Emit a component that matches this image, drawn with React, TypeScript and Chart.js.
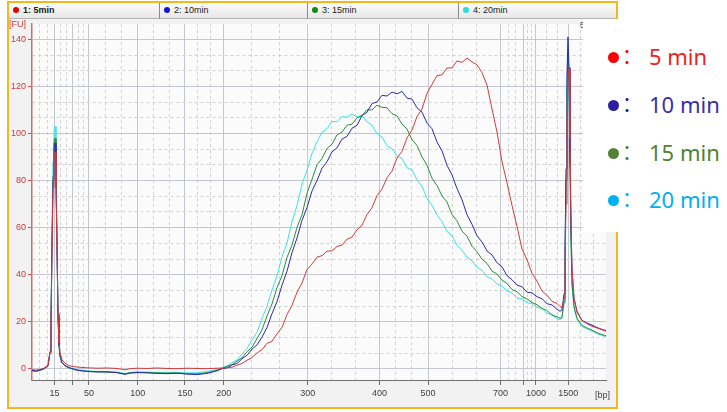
import React, { useEffect, useRef } from "react";
import { Chart, registerables } from "chart.js";

Chart.register(...registerables);

// migration time axis (s) shared by all four traces
const times = [
  20.0, 20.4, 20.8, 21.2, 21.6,
  21.8, 21.9, 22.0, 22.1, 22.2, 22.3, 22.4, 22.5, 22.6, 22.7, 22.8, 23.0, 23.3, 23.7,
  24.5, 25.5, 26.5, 27.5, 28.5, 29.3, 29.8, 30.5, 31.5, 32.5, 33.5, 34.5, 35.5, 36.5, 37.5, 38.5,
  39.0, 39.5, 40.0, 40.5, 41.0, 41.5, 42.0, 42.5, 43.0, 43.5, 44.0, 44.5, 45.0, 45.5, 46.0, 46.5,
  47.0, 47.5, 48.0, 48.5, 49.0, 49.5, 50.0, 50.5, 51.0, 51.5, 52.0, 52.5, 53.0, 53.5, 54.0, 54.5,
  55.0, 55.5, 56.0, 56.5, 57.0, 57.5, 58.0, 58.5, 59.0, 59.5, 60.0, 60.5, 61.0, 61.5, 62.0, 62.5,
  63.0, 63.5, 64.0, 64.5, 65.0, 65.5, 66.0, 66.5, 67.0, 67.5, 68.0, 68.5, 69.0, 69.5, 70.0, 70.5,
  71.0, 71.5, 72.0, 72.5,
  72.8, 73.0, 73.2, 73.3, 73.4, 73.5, 73.6, 73.7, 73.8, 73.9, 74.0, 74.2, 74.5,
  75.0, 75.5, 76.0, 76.5, 77.0, 77.4,
];

const fu5min = [
  -0.3, -0.5, -0.2, 0.3, 1.6,
  7, 19, 50, 77, 90, 92, 77, 51, 23, 11, 7, 4, 2.4, 1.4,
  0.8, 0.5, 0.3, 0.4, 0.2, -0.4, 0.1, 0.3, 0.2, 0.4, 0.2, 0.1, 0.3, 0.2, 0.1, 0.3,
  0.3, 0.6, 0.7, 1.6, 2.3, 3.7, 4.8, 6.8, 8.2, 10.9, 11.7, 14.9, 17.6, 23.1, 27.0, 32.6,
  36.5, 42.2, 44.6, 47.5, 48.1, 50.0, 50.2, 52.0, 52.6, 55.1, 56.0, 59.1, 61.0, 65.6, 68.5, 73.6,
  76.4, 81.2, 84.0, 89.6, 92.4, 98.1, 101.5, 107.2, 110.4, 117.1, 120.8, 124.6, 124.9, 127.8, 127.9, 130.8,
  130.2, 132.0, 130.4, 129.2, 125.8, 120.6, 110.4, 100.6, 88.0, 79.1, 69.4, 60.5, 51.0, 46.4, 40.6, 37.3,
  33.1, 31.3, 28.7, 27.8,
  26.5, 26, 30, 42, 70, 105, 125, 127.5, 98, 64, 42, 30, 24,
  20.5, 19.2, 18.1, 17.4, 16.6, 16.0,
];

const fu10min = [
  -0.6, -0.8, -0.4, 0.2, 1.4,
  7, 19, 52, 80, 94, 96, 80, 52, 22, 10, 5.5, 2.8, 1.5, 0.6,
  -0.5, -1.0, -1.3, -1.2, -1.6, -2.3, -1.8, -1.5, -1.7, -1.9, -2.0, -1.8, -2.2, -2.4, -1.9, -0.8,
  0.1, 0.4, 1.7, 2.3, 4.3, 5.8, 8.4, 10.2, 13.5, 17.6, 23.5, 28.6, 35.6, 41.5, 49.4, 55.6,
  63.1, 68.5, 75.6, 80.0, 85.2, 88.0, 92.2, 93.9, 97.6, 98.8, 102.2, 103.5, 107.6, 109.0, 112.7, 113.4,
  116.2, 115.9, 117.6, 116.8, 117.9, 115.0, 114.6, 110.9, 109.1, 104.4, 102.0, 96.4, 92.6, 86.5, 82.4, 76.6,
  71.9, 65.5, 61.4, 56.6, 53.9, 50.1, 48.4, 45.1, 43.4, 39.6, 37.9, 35.6, 34.9, 32.6, 32.3, 30.7,
  29.8, 27.7, 27.2, 25.3,
  24.5, 25, 32, 50, 85, 125, 141, 128, 92, 60, 42, 30, 24.5,
  20.6, 19.5, 18.6, 17.6, 16.8, 16.3,
];

const fu15min = [
  -0.8, -1.0, -0.6, 0.0, 1.3,
  7, 20, 54, 82, 96, 98, 82, 54, 23, 10, 5.5, 2.6, 1.3, 0.4,
  -0.6, -1.1, -1.2, -1.4, -1.5, -2.1, -1.6, -1.6, -1.5, -1.7, -1.8, -1.7, -2.0, -2.1, -1.6, -0.6,
  0.2, 1.1, 1.8, 3.3, 4.7, 7.3, 9.2, 12.9, 16.6, 22.5, 27.6, 34.5, 39.6, 47.4, 52.6, 60.1,
  65.5, 74.6, 80.5, 86.7, 89.4, 93.6, 95.5, 99.4, 100.6, 103.5, 104.0, 106.7, 107.5, 110.1, 110.0, 112.0,
  111.1, 110.9, 108.4, 107.5, 104.0, 101.9, 97.4, 94.9, 90.1, 86.5, 81.0, 77.9, 73.5, 70.9, 65.6, 62.9,
  58.5, 56.4, 52.1, 49.8, 46.6, 44.8, 41.6, 40.3, 37.7, 36.3, 33.7, 32.8, 30.7, 29.8, 28.2, 27.3,
  25.7, 24.8, 22.8, 22.2,
  21.5, 22, 28.5, 45, 80, 118, 134, 121, 86, 54, 36, 26.5, 21.5,
  18.5, 17.4, 16.5, 15.4, 14.6, 14.1,
];

const fu20min = [
  -1.0, -1.1, -0.7, -0.1, 1.2,
  8, 22, 57, 88, 101, 103, 86, 56, 24, 11, 5.5, 2.6, 1.2, 0.5,
  -0.3, -0.8, -1.0, -1.1, -1.3, -2.0, -1.5, -1.2, -1.3, -1.5, -1.4, -1.5, -1.7, -1.6, -1.1, -0.2,
  0.6, 1.3, 2.7, 3.8, 6.3, 8.7, 12.4, 15.6, 21.5, 26.6, 33.6, 39.5, 47.6, 53.5, 62.6, 69.4,
  78.5, 84.4, 91.6, 96.5, 100.6, 102.0, 105.1, 105.0, 107.2, 106.9, 108.3, 107.0, 107.6, 104.9, 103.6, 99.9,
  98.5, 94.8, 93.5, 90.4, 89.5, 85.4, 84.5, 80.3, 77.6, 72.4, 69.5, 65.4, 62.5, 58.4, 56.5, 52.5,
  50.4, 47.5, 45.9, 43.1, 41.9, 39.1, 38.3, 36.1, 35.3, 33.1, 32.3, 30.1, 29.8, 28.1, 27.7, 26.1,
  25.7, 23.6, 23.2, 21.3,
  21, 21.5, 28, 46, 82, 121, 137.5, 124, 88, 55, 36, 26, 21,
  18, 17, 16, 15, 14.2, 13.8,
];

// ladder (bp) and where each size sits on the time axis
const ladderBp = ["15", "25", "50", "100", "150", "200", "300", "400", "500", "700", "850", "1000", "1500"];
const ladderTimes = [22.26, 24.07, 25.7, 30.57, 35.3, 39.18, 47.57, 54.75, 59.6, 66.86, 69.13, 70.39, 73.63];
const unlabeledBp = ["25", "850"];

const yMajorStep = 20;
const yMinorDivisions = 3;

const tabNames = ["1: 5min", "2: 10min", "3: 15min", "4: 20min"];
const tabDotColors = ["#e60000", "#1414d2", "#138a13", "#25dede"];
const seriesLabels = ["5 min", "10 min", "15 min", "20 min"];
const lineColors = ["#d33b3b", "#2a2ab8", "#2e8b3a", "#3be3e3"];
const legendDotColors = ["#ff0000", "#2b1ea3", "#538135", "#00b0f0"];
const legendTextColors = ["#f01e1e", "#3a2ea8", "#538135", "#00b0f0"];

const X_MIN = 20;
const X_MAX = 77.4;
const Y_MIN = -4.7;
const Y_MAX = 146.5;

const FONT = "'Liberation Sans Narrow','Liberation Sans',Arial,sans-serif";
const MAJOR_GRID = "#c5c7cf";
const MINOR_GRID = "#d2d2d2";

const isMajorX = (v: number) => ladderTimes.some((t) => Math.abs(t - v) < 1e-9);
const isMajorY = (v: number) => Math.abs(v / yMajorStep - Math.round(v / yMajorStep)) < 1e-6;

function buildXTicks() {
  const b = [X_MIN, ...ladderTimes, X_MAX];
  const out: { value: number }[] = [];
  for (let i = 0; i < b.length - 1; i++) {
    const a = b[i];
    const c = b[i + 1];
    if (i > 0) out.push({ value: a });
    out.push({ value: a + (c - a) / 3 });
    out.push({ value: a + (2 * (c - a)) / 3 });
  }
  return out;
}

function buildYTicks() {
  const out: { value: number }[] = [];
  const step = yMajorStep / yMinorDivisions;
  for (let k = 0; k * step <= Y_MAX; k++) out.push({ value: k * step });
  return out;
}

const plotBg = {
  id: "plotBg",
  beforeDraw(chart: any) {
    const { ctx, chartArea } = chart;
    ctx.save();
    ctx.fillStyle = "#fbfbfb";
    ctx.fillRect(chartArea.left, chartArea.top, chartArea.right - chartArea.left, chartArea.bottom - chartArea.top);
    ctx.restore();
  },
};

export default function App() {
  const ref = useRef<HTMLCanvasElement>(null);

  useEffect(() => {
    const canvas = ref.current;
    if (!canvas) return;
    const series = [fu5min, fu10min, fu15min, fu20min];
    const chart = new Chart(canvas, {
      type: "line",
      data: {
        datasets: series.map((d, i) => ({
          label: seriesLabels[i],
          data: times.map((t, j) => ({ x: t, y: d[j] })),
          borderColor: lineColors[i],
          backgroundColor: lineColors[i],
          borderWidth: 1,
          pointRadius: 0,
          fill: false,
          tension: 0,
        })),
      },
      options: {
        responsive: false,
        animation: false,
        events: [],
        layout: { padding: { left: 0, right: 121, top: 24, bottom: 0 } },
        plugins: { legend: { display: false }, tooltip: { enabled: false } },
        scales: {
          x: {
            type: "linear",
            min: X_MIN,
            max: X_MAX,
            bounds: "data",
            afterBuildTicks: (s: any) => {
              s.ticks = buildXTicks();
            },
            afterFit: (s: any) => {
              s.height = 32;
            },
            ticks: {
              autoSkip: false,
              maxRotation: 0,
              minRotation: 0,
              padding: 3,
              color: "#404040",
              font: { family: FONT, size: 9 },
              callback: (value: any) => {
                const i = ladderTimes.findIndex((t) => Math.abs(t - Number(value)) < 1e-9);
                if (i < 0) return "";
                return unlabeledBp.includes(ladderBp[i]) ? "" : ladderBp[i];
              },
            },
            grid: {
              color: (c: any) => (c.tick && isMajorX(c.tick.value) ? MAJOR_GRID : MINOR_GRID),
              lineWidth: 1,
              drawTicks: true,
              tickLength: 5,
              tickWidth: 1,
              tickColor: (c: any) => (c.tick && isMajorX(c.tick.value) ? "#6e6e6e" : "rgba(0,0,0,0)"),
            },
            border: {
              display: true,
              color: "#6e6e6e",
              width: 1,
              dash: (c: any) => (c.tick && !isMajorX(c.tick.value) ? [3, 3] : []),
            },
          },
          y: {
            type: "linear",
            min: Y_MIN,
            max: Y_MAX,
            bounds: "data",
            afterBuildTicks: (s: any) => {
              s.ticks = buildYTicks();
            },
            afterFit: (s: any) => {
              s.width = 32;
            },
            ticks: {
              autoSkip: false,
              padding: 2,
              color: "#cc3a3a",
              font: { family: FONT, size: 9 },
              callback: (value: any) => (isMajorY(Number(value)) ? String(Math.round(Number(value))) : ""),
            },
            grid: {
              color: (c: any) => (c.tick && isMajorY(c.tick.value) ? MAJOR_GRID : MINOR_GRID),
              lineWidth: 1,
              drawTicks: true,
              tickLength: 4,
              tickWidth: 1,
              tickColor: (c: any) => (c.tick && isMajorY(c.tick.value) ? "#d05050" : "rgba(0,0,0,0)"),
            },
            border: {
              display: true,
              color: "#d46a6a",
              width: 1.5,
              dash: (c: any) => (c.tick && !isMajorY(c.tick.value) ? [3, 3] : []),
            },
          },
        },
      } as any,
      plugins: [plotBg],
    });
    return () => chart.destroy();
  }, []);

  const tabEdges = [9, 160, 308, 459, 616];
  const legendRowsY = [57, 105, 153, 200];

  return (
    <div
      style={{
        position: "fixed",
        left: 0,
        top: 0,
        width: 727,
        height: 412,
        background: "#ffffff",
        overflow: "hidden",
        fontFamily: FONT,
      }}
    >
      <div
        style={{
          position: "absolute",
          left: 7,
          top: 1,
          width: 611,
          height: 408,
          border: "2px solid #f5b71e",
          boxSizing: "border-box",
          background: "#f2f2f2",
        }}
      />
      {tabNames.map((name, i) => (
        <div
          key={name}
          style={{
            position: "absolute",
            left: tabEdges[i],
            top: 3,
            width: tabEdges[i + 1] - tabEdges[i],
            height: 16,
            boxSizing: "border-box",
            background: "linear-gradient(#fdfdfd, #e6e6e6)",
            borderRight: i < 3 ? "1px solid #8c8c8c" : "none",
            borderBottom: "1px solid #b4b4b4",
          }}
        >
          <div
            style={{
              position: "absolute",
              left: 4,
              top: 4,
              width: 6,
              height: 6,
              borderRadius: 3,
              background: tabDotColors[i],
            }}
          />
          <span
            style={{
              position: "absolute",
              left: 14,
              top: 2,
              fontSize: 9,
              lineHeight: "11px",
              color: "#202020",
              fontWeight: i === 0 ? "bold" : "normal",
              whiteSpace: "nowrap",
            }}
          >
            {name}
          </span>
        </div>
      ))}
      <canvas ref={ref} width={727} height={412} style={{ position: "absolute", left: 0, top: 0, width: 727, height: 412 }} />
      <span style={{ position: "absolute", left: 9, top: 19, fontSize: 9, lineHeight: "11px", color: "#cc3a3a" }}>[FU]</span>
      <span style={{ position: "absolute", left: 595, top: 390, fontSize: 9, lineHeight: "11px", color: "#404040" }}>[bp]</span>
      <span style={{ position: "absolute", left: 580, top: 20, fontSize: 9, lineHeight: "11px", color: "#505050" }}>5</span>
      <div style={{ position: "absolute", left: 583, top: 19, width: 144, height: 213, background: "#ffffff" }}>
        {seriesLabels.map((lab, i) => (
          <React.Fragment key={lab}>
            <div
              style={{
                position: "absolute",
                left: 24.5,
                top: legendRowsY[i] - 19 - 5.5,
                width: 11,
                height: 11,
                borderRadius: 6,
                background: legendDotColors[i],
              }}
            />
            <span
              style={{
                position: "absolute",
                left: 34,
                top: legendRowsY[i] - 19 - 11,
                width: 22,
                fontFamily: "'Noto Sans CJK JP','Noto Sans CJK SC',sans-serif",
                fontSize: 20,
                lineHeight: "22px",
                color: legendDotColors[i],
              }}
            >
              ：
            </span>
            <span
              style={{
                position: "absolute",
                left: 66,
                top: legendRowsY[i] - 19 - 11.7,
                fontFamily: "'Noto Sans',sans-serif",
                fontSize: 22,
                lineHeight: "22px",
                color: legendTextColors[i],
                whiteSpace: "nowrap",
              }}
            >
              {lab}
            </span>
          </React.Fragment>
        ))}
      </div>
    </div>
  );
}
